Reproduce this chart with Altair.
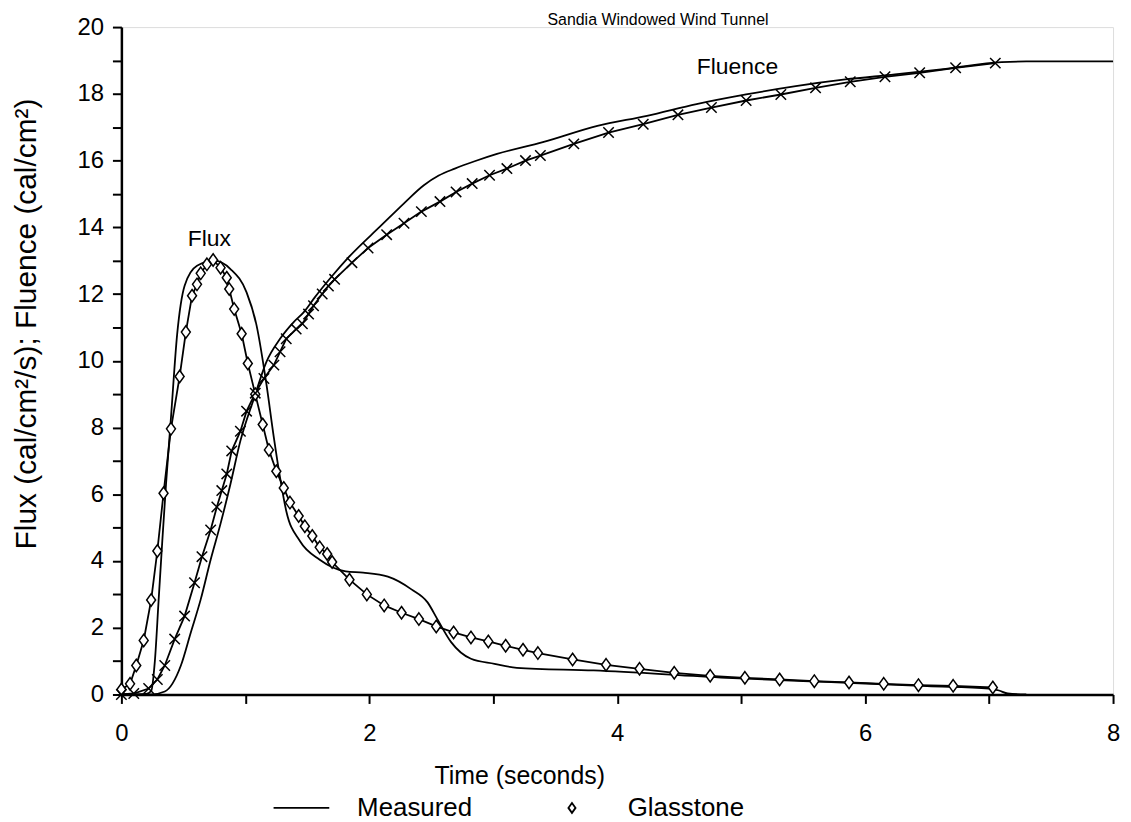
import altair as alt
import pandas as pd

# ---------------- data ----------------
meas_flux_t = [0.0, 0.10, 0.20, 0.24, 0.27, 0.30, 0.33, 0.36, 0.40, 0.45, 0.51, 0.61, 0.75,
               0.88, 1.01, 1.09, 1.17, 1.23, 1.28, 1.33, 1.44, 1.60, 1.81, 1.95, 2.15, 2.34,
               2.47, 2.55, 2.66, 2.82, 3.01, 3.19, 3.81, 4.88, 5.50, 6.00, 6.50, 7.00, 7.08,
               7.15, 7.30]
meas_flux_v = [0.0, 0.0, 0.02, 0.1, 1.0, 2.8, 4.6, 6.3, 8.3, 10.8, 12.25, 12.85, 13.0,
               12.75, 12.05, 11.07, 9.3, 7.7, 6.5, 5.5, 4.6, 4.04, 3.69, 3.65, 3.53, 3.15,
               2.76, 2.25, 1.57, 1.07, 0.92, 0.80, 0.72, 0.50, 0.40, 0.33, 0.25, 0.18, 0.12,
               0.03, 0.0]

glas_flux_t = [0.0, 0.07, 0.12, 0.18, 0.24, 0.29, 0.34, 0.40, 0.47, 0.52, 0.57, 0.61, 0.64,
               0.69, 0.74, 0.80, 0.85, 0.87, 0.91, 0.97, 1.02, 1.08, 1.14, 1.19, 1.25, 1.31,
               1.36, 1.43, 1.48, 1.54, 1.60, 1.66, 1.70, 1.84, 1.98, 2.12, 2.26, 2.40, 2.54,
               2.68, 2.82, 2.96, 3.10, 3.24, 3.36, 3.64, 3.91, 4.18, 4.46, 4.75, 5.03, 5.31,
               5.59, 5.87, 6.15, 6.43, 6.71, 7.03]
glas_flux_v = [0.15, 0.32, 0.87, 1.62, 2.83, 4.30, 6.03, 7.96, 9.53, 10.86, 11.95, 12.29, 12.62,
               12.89, 13.02, 12.79, 12.49, 12.15, 11.55, 10.81, 9.92, 9.00, 8.09, 7.33, 6.69, 6.19,
               5.75, 5.35, 5.04, 4.75, 4.41, 4.21, 3.97, 3.44, 3.00, 2.67, 2.45, 2.26, 2.04,
               1.86, 1.71, 1.59, 1.46, 1.34, 1.24, 1.05, 0.89, 0.77, 0.65, 0.56, 0.50, 0.45,
               0.40, 0.36, 0.32, 0.28, 0.26, 0.21]

meas_fluence_t = [0.0, 0.24, 0.35, 0.48, 0.56, 0.64, 0.72, 0.80, 0.88, 0.96, 1.07, 1.17, 1.28,
                  1.39, 1.47, 1.56, 1.70, 1.83, 2.10, 2.28, 2.44, 2.56, 2.69, 2.85, 3.03, 3.40,
                  3.84, 4.24, 4.64, 5.04, 5.44, 5.84, 6.24, 6.65, 7.10, 7.30, 8.00]
meas_fluence_v = [0.0, 0.0, 0.09, 0.87, 1.86, 2.85, 4.04, 5.12, 6.31, 7.60, 8.88, 9.97, 10.66,
                  11.16, 11.45, 11.90, 12.54, 13.09, 14.07, 14.72, 15.26, 15.55, 15.76, 15.98, 16.20, 16.55,
                  17.04, 17.34, 17.69, 17.98, 18.23, 18.43, 18.58, 18.75, 18.95, 18.97, 18.97]

glas_fluence_t = [0.0, 0.10, 0.22, 0.29, 0.35, 0.43, 0.51, 0.59, 0.65, 0.72, 0.77, 0.81, 0.85,
                  0.89, 0.96, 1.01, 1.08, 1.15, 1.23, 1.28, 1.33, 1.41, 1.46, 1.51, 1.55, 1.62,
                  1.67, 1.72, 1.86, 1.99, 2.14, 2.28, 2.42, 2.57, 2.70, 2.83, 2.97, 3.11, 3.26,
                  3.38, 3.65, 3.93, 4.21, 4.49, 4.76, 5.04, 5.32, 5.60, 5.88, 6.16, 6.44, 6.73,
                  7.05]
glas_fluence_v = [0.0, 0.03, 0.18, 0.45, 0.87, 1.66, 2.35, 3.35, 4.13, 4.93, 5.62, 6.11, 6.61,
                  7.30, 7.89, 8.49, 9.03, 9.47, 9.87, 10.27, 10.66, 10.95, 11.11, 11.40, 11.65, 12.00,
                  12.24, 12.44, 12.94, 13.38, 13.78, 14.12, 14.47, 14.77, 15.06, 15.31, 15.56, 15.76, 16.00,
                  16.15, 16.50, 16.84, 17.09, 17.37, 17.59, 17.80, 17.98, 18.18, 18.36, 18.51, 18.63, 18.78,
                  18.92]

note_text = ["Flux", "Fluence"]
note_t = [0.71, 4.97]
note_v = [13.65, 18.8]

legend_series = ["Measured", "Glasstone"]
x_ticks = list(range(0, 9))
y_ticks = list(range(0, 21))

FONT = "Liberation Sans"

# ---------------- tables ----------------
df_mflux = pd.DataFrame({"t": meas_flux_t, "v": meas_flux_v})
df_gflux = pd.DataFrame({"t": glas_flux_t, "v": glas_flux_v, "series": "Glasstone"})
df_mflu = pd.DataFrame({"t": meas_fluence_t, "v": meas_fluence_v})
df_gflu = pd.DataFrame({"t": glas_fluence_t, "v": glas_fluence_v})
df_note = pd.DataFrame({"t": note_t, "v": note_v, "txt": note_text})

even_only = "datum.value % 2 == 0 ? datum.label : ''"

X = alt.X("t:Q", scale=alt.Scale(domain=[0, 8], nice=False, zero=False),
          axis=alt.Axis(values=x_ticks, labelExpr=even_only, title="Time (seconds)",
                        grid=False, tickSize=9, tickWidth=2, tickColor="black",
                        domainWidth=2.5, domainColor="black",
                        labelFontSize=24, labelColor="black", labelFont=FONT,
                        labelPadding=18, labelFlush=False, labelOverlap=False,
                        titleFontSize=25, titleFontWeight="normal", titleFont=FONT,
                        titleColor="black", titleX=400, titleY=89,
                        titleBaseline="alphabetic", titleAlign="center"))
Y = alt.Y("v:Q", scale=alt.Scale(domain=[0, 20], nice=False),
          axis=alt.Axis(values=y_ticks, labelExpr=even_only,
                        title="Flux (cal/cm²/s); Fluence (cal/cm²)",
                        grid=False, tickSize=9, tickWidth=2, tickColor="black",
                        domainWidth=2.5, domainColor="black",
                        labelFontSize=24, labelColor="black", labelFont=FONT,
                        labelPadding=9, labelFlush=False, labelOverlap=False,
                        titleFontSize=30, titleFontWeight="normal", titleFont=FONT,
                        titleColor="black", titleX=-86, titleY=298,
                        titleBaseline="alphabetic", titleAlign="center"))

line_kw = dict(color="black", strokeWidth=1.8)

l_mflux = alt.Chart(df_mflux).mark_line(interpolate="monotone", **line_kw).encode(x=X, y=Y)
l_mflu = alt.Chart(df_mflu).mark_line(interpolate="monotone", **line_kw).encode(x=X, y=Y)
l_gflux = alt.Chart(df_gflux).mark_line(**line_kw).encode(x=X, y=Y)
l_gflu = alt.Chart(df_gflu).mark_line(**line_kw).encode(x=X, y=Y)

diamond = "M0,-1.25L0.9,0L0,1.25L-0.9,0Z"
dash = "M-7,0L7,0"
xmark = "M-1,-1L1,1M-1,1L1,-1"

# white interiors of the diamonds (no legend)
p_gflux_fill = alt.Chart(df_gflux).mark_point(filled=True, color="white", size=100,
                                              opacity=1, shape=diamond).encode(x=X, y=Y)

# diamond outlines, carrying the legend
p_gflux = alt.Chart(df_gflux).mark_point(filled=False, color="black", strokeWidth=1.5,
                                         size=100, opacity=1).encode(
    x=X, y=Y,
    shape=alt.Shape("series:N",
                    scale=alt.Scale(domain=legend_series, range=[dash, diamond]),
                    legend=alt.Legend(title=None, orient="none", legendX=168, legendY=772,
                                      direction="horizontal", labelFontSize=26,
                                      labelFont=FONT, labelColor="black",
                                      symbolSize=64, symbolStrokeWidth=1.8,
                                      symbolStrokeColor="black",
                                      symbolFillColor="transparent",
                                      labelOffset=43, columnPadding=87, padding=0,
                                      symbolOpacity=1)))

p_gflu = alt.Chart(df_gflu).mark_point(filled=False, color="black", strokeWidth=1.5,
                                       size=110, opacity=1, shape=xmark).encode(x=X, y=Y)

notes = alt.Chart(df_note).mark_text(font=FONT, fontSize=23, color="black",
                                     align="center", baseline="middle").encode(
    x=X, y=Y, text="txt:N")

chart = alt.layer(l_mflux, l_mflu, l_gflux, l_gflu, p_gflux_fill, p_gflux, p_gflu,
                  notes).properties(
    width=997, height=671,
    title=alt.TitleParams("Sandia Windowed Wind Tunnel", fontSize=16, fontWeight="normal",
                          font=FONT, color="black", frame="group", anchor="middle",
                          offset=-13, dx=41),
    autosize=alt.AutoSizeParams(type="none"),
    padding={"left": 114, "top": 17, "right": 10, "bottom": 125},
).configure_view(stroke="black", strokeWidth=2.5).configure(background="white")

chart.save("out.html", embed_options={"renderer": "svg", "actions": False})
